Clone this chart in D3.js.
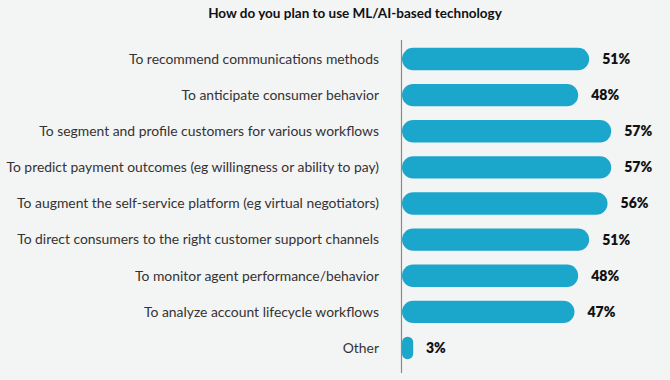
<!DOCTYPE html>
<html><head><meta charset="utf-8">
<script src="https://cdn.jsdelivr.net/npm/d3@7"></script>
<style>
html,body{margin:0;padding:0;background:#f3f4f4;}
svg{display:block;}
</style></head><body>
<div id="chart"></div>
<script>
const title = "How do you plan to use ML/AI-based technology";
const categories = [
  "To recommend communications methods",
  "To anticipate consumer behavior",
  "To segment and profile customers for various workflows",
  "To predict payment outcomes (eg willingness or ability to pay)",
  "To augment the self-service platform (eg virtual negotiators)",
  "To direct consumers to the right customer support channels",
  "To monitor agent performance/behavior",
  "To analyze account lifecycle workflows",
  "Other"
];
const values = [51, 48, 57, 57, 56, 51, 48, 47, 3];

const W = 670, H = 380;
const svg = d3.select("#chart").append("svg").attr("width", W).attr("height", H);
svg.append("rect").attr("width", W).attr("height", H).attr("fill", "#f3f4f4");

const x0 = 402;
const x = d3.scaleLinear().domain([0, 100]).range([x0, x0 + 367]);
const y = d3.scaleBand().domain(categories).range([41, 366]).paddingInner(0.38).paddingOuter(0.19);

svg.append("text").attr("x", 355).attr("y", 18).attr("text-anchor", "middle")
  .attr("font-family", "Lato, 'Open Sans', sans-serif").attr("font-weight", 700)
  .attr("font-size", 13.5).attr("fill", "#111").text(title);

const bh = y.bandwidth();
svg.append("g").selectAll("rect").data(values).join("rect")
  .attr("x", x(0))
  .attr("y", (d, i) => y(categories[i]))
  .attr("width", d => Math.max(x(d) - x(0), bh * 0.5))
  .attr("height", bh)
  .attr("rx", d => Math.min(bh / 2, (x(d) - x(0)) / 2))
  .attr("fill", "#1ba6cc");

svg.append("line").attr("x1", x0 - 0.5).attr("x2", x0 - 0.5).attr("y1", 40).attr("y2", 373)
  .attr("stroke", "#8a8a8a").attr("stroke-width", 1.2);

svg.append("g").selectAll("text").data(categories).join("text")
  .attr("x", 379).attr("y", d => y(d) + bh / 2).attr("dy", "0.35em")
  .attr("text-anchor", "end").attr("font-family", "Lato, 'Open Sans', sans-serif")
  .attr("font-size", 13.9).attr("fill", "#333").text(d => d);

svg.append("g").selectAll("text").data(values).join("text")
  .attr("x", d => x(d) + 13).attr("y", (d, i) => y(categories[i]) + bh / 2).attr("dy", "0.35em")
  .attr("font-family", "Lato, 'Open Sans', sans-serif").attr("font-weight", 800)
  .attr("font-size", 14).attr("fill", "#111").text(d => d + "%");
</script></body></html>
